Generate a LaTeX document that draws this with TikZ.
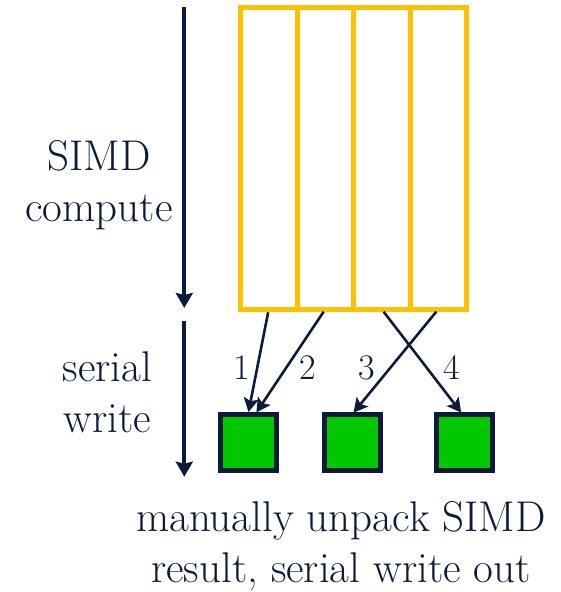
\documentclass[tikz,border=0pt]{standalone}
\usetikzlibrary{arrows.meta,positioning,calc}
\definecolor{navyc}{HTML}{0B1B3B}
\definecolor{goldc}{HTML}{FFC000}
\definecolor{outc}{HTML}{00C800}

\begin{document}
\begin{tikzpicture}[x=1pt,y=-1pt,
      lane/.style={draw=goldc,line width=5pt,minimum width=56.5pt,minimum height=302pt,inner sep=0pt,outer sep=0pt},
      outbox/.style={draw=navyc,fill=outc,line width=5pt,minimum size=56pt,inner sep=0pt,outer sep=0pt},
      lbl/.style={text=navyc,align=center,inner sep=0pt,font=\fontsize{43}{50.7}\selectfont},
      num/.style={text=navyc,inner sep=0pt,anchor=base,font=\fontsize{36}{40}\selectfont},
      phase/.style={draw=navyc,line width=4pt,-{Stealth[length=15pt,width=17pt,inset=2pt]}},
      wr/.style={draw=navyc,line width=2.6pt,shorten <=3pt,shorten >=2.5pt,-{Stealth[length=14pt,width=15pt,inset=3pt]}}]
    \useasboundingbox (0,0) rectangle (561,592);
    % SIMD register, four lanes
    \node[lane] (l1) at (268.75,158.3) {};
    \node[lane,right=0pt of l1] (l2) {};
    \node[lane,right=0pt of l2] (l3) {};
    \node[lane,right=0pt of l3] (l4) {};
    % output slots
    \node[outbox] (sq1) at (248.5,442.5) {};
    \node[outbox,right=47.5pt of sq1] (sq2) {};
    \node[outbox,right=56.7pt of sq2] (sq3) {};
    % serial writes
    \draw[wr] (l1.south) -- ([xshift=-0.5pt]sq1.north);
    \draw[wr] (l2.south) -- ([xshift=6.5pt]sq1.north);
    \draw[wr] (l4.south) -- (sq2.north);
    \draw[wr] (l3.south) -- ([xshift=-2pt]sq3.north);
    \node[num] (n1) at (241.7,379) {1};
    \node[num] (n2) at (308,379) {2};
    \node[num] (n3) at (366.7,379) {3};
    \node[num] (n4) at (451.7,379) {4};
    % phases
    \coordinate (ct) at (184.3,7);
    \coordinate (cb) at (184.3,308);
    \coordinate (wt) at (184.3,320.7);
    \coordinate (wb) at (184.3,476.7);
    \draw[phase] (ct) -- (cb);
    \draw[phase] (wt) -- (wb);
    \node[lbl] (simd) at (99,185) {SIMD\\compute};
    \node[lbl] (ser) at (107.5,392.3) {serial\\write};
    \node[lbl] (cap) at (341,546.3) {manually unpack SIMD\\result, serial write out};
  \end{tikzpicture}
\end{document}
